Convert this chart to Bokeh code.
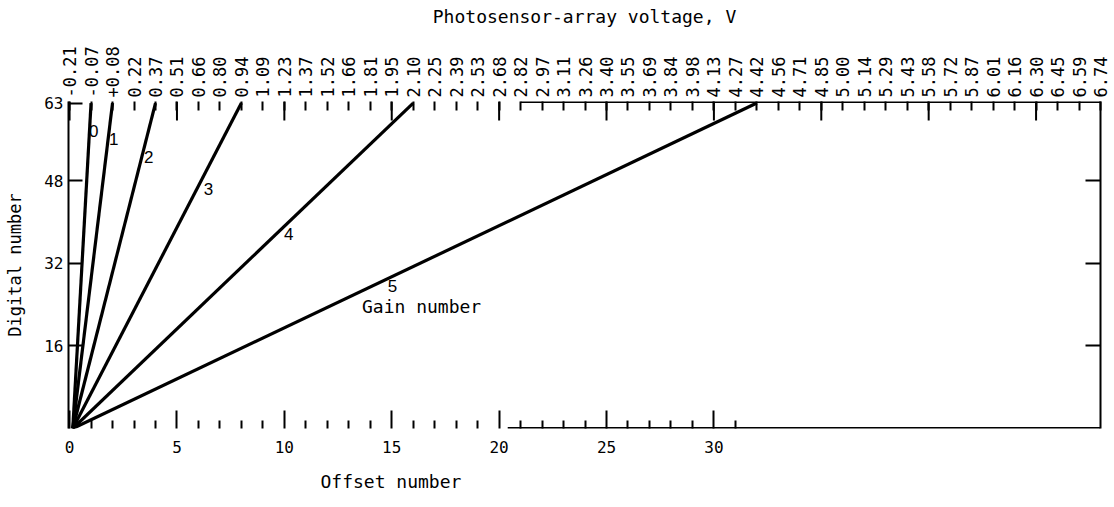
import numpy as np
from bokeh.plotting import figure
from bokeh.models import Range1d, LinearAxis, FixedTicker, Label, ColumnDataSource, Title
from bokeh.embed import file_html
from bokeh.resources import INLINE

# ---------------- data ----------------
gain_numbers = ["0", "1", "2", "3", "4", "5"]
line_start_offset = [0.15, 0.15, 0.15, 0.15, 0.15, 0.15]
line_end_offset = [1, 2, 4, 8, 16, 32]
line_start_dn = [0, 0, 0, 0, 0, 0]
line_end_dn = [63, 63, 63, 63, 63, 63]

offset_ticks = list(range(0, 49))
voltage_labels = ["-0.21", "-0.07", "+0.08", "0.22", "0.37", "0.51", "0.66", "0.80",
                  "0.94", "1.09", "1.23", "1.37", "1.52", "1.66", "1.81", "1.95",
                  "2.10", "2.25", "2.39", "2.53", "2.68", "2.82", "2.97", "3.11",
                  "3.26", "3.40", "3.55", "3.69", "3.84", "3.98", "4.13", "4.27",
                  "4.42", "4.56", "4.71", "4.85", "5.00", "5.14", "5.29", "5.43",
                  "5.58", "5.72", "5.87", "6.01", "6.16", "6.30", "6.45", "6.59", "6.74"]
bottom_major = [0, 5, 10, 15, 20, 25, 30]
bottom_minor = [i for i in range(1, 32) if i % 5 != 0]
top_long = [0, 5, 10, 15, 20, 25, 30, 35, 40, 45]
dn_ticks = [16, 32, 48, 63]
right_ticks = [16, 32, 48]

# label positions (annotation placement)
gain_label_x = [1.12, 2.05, 3.68, 6.47, 10.2, 15.04]
gain_label_y = [57.6, 56.0, 52.6, 46.4, 37.6, 27.6]

MONO = "DejaVu Sans Mono"
X0, X1 = -0.05, 48.0
Y0, Y1 = 0.0, 63.3

p = figure(width=1114, height=507, x_range=Range1d(X0, X1), y_range=Range1d(Y0, Y1),
           output_backend="svg", toolbar_location=None,
           x_axis_location=None, y_axis_location=None,
           min_border_left=68, min_border_right=14, min_border_top=101, min_border_bottom=79)
p.outline_line_color = None
p.xgrid.visible = False
p.ygrid.visible = False
p.background_fill_color = "white"
p.border_fill_color = "white"

# bottom axis (offset number)
bottom = LinearAxis(ticker=FixedTicker(ticks=bottom_major, minor_ticks=bottom_minor),
                    major_tick_in=18, major_tick_out=0, minor_tick_in=8, minor_tick_out=0,
                    major_tick_line_width=2, minor_tick_line_width=2,
                    major_tick_line_color="black", minor_tick_line_color="black",
                    axis_line_color=None, major_label_standoff=12,
                    major_label_text_font=MONO, major_label_text_font_size="16px",
                    major_label_text_color="black")
p.add_layout(bottom, "below")

# axis title below, positioned under the offset scale
p.add_layout(Title(text="Offset number", align="left", offset=252, standoff=27,
                   text_font=MONO, text_font_size="18px", text_font_style="normal",
                   text_color="black"), "below")

# top axis (voltage)
top = LinearAxis(ticker=FixedTicker(ticks=offset_ticks, minor_ticks=[]),
                 major_label_overrides={t: lab for t, lab in zip(offset_ticks, voltage_labels)},
                 major_label_orientation=np.pi / 2,
                 major_tick_in=9, major_tick_out=0, major_tick_line_width=2,
                 major_tick_line_color="black",
                 axis_line_color=None, major_label_standoff=4,
                 major_label_text_font=MONO, major_label_text_font_size="17px",
                 major_label_text_color="black",
                 axis_label="Photosensor-array voltage, V", axis_label_standoff=16,
                 axis_label_text_font=MONO, axis_label_text_font_size="18px",
                 axis_label_text_font_style="normal", axis_label_text_color="black")
p.add_layout(top, "above")

# left axis (digital number)
left = LinearAxis(ticker=FixedTicker(ticks=dn_ticks, minor_ticks=[]),
                  major_tick_in=14, major_tick_out=0, major_tick_line_width=2,
                  major_tick_line_color="black",
                  axis_line_width=2, axis_line_color="black",
                  major_label_standoff=5,
                  major_label_text_font=MONO, major_label_text_font_size="16px",
                  major_label_text_color="black",
                  axis_label="Digital number", axis_label_standoff=16,
                  axis_label_text_font=MONO, axis_label_text_font_size="17px",
                  axis_label_text_font_style="normal", axis_label_text_color="black")
p.add_layout(left, "left")

# right axis (ticks only)
right = LinearAxis(ticker=FixedTicker(ticks=right_ticks, minor_ticks=[]),
                   major_label_overrides={t: "" for t in right_ticks},
                   major_tick_in=15, major_tick_out=0, major_tick_line_width=2,
                   major_tick_line_color="black",
                   axis_line_width=2, axis_line_color="black",
                   major_label_standoff=0, major_label_text_font_size="1px")
p.add_layout(right, "right")

# long ticks along the top
long_len = 19 / 5.17
p.segment(x0=top_long, y0=[Y1] * len(top_long), x1=top_long,
          y1=[Y1 - long_len] * len(top_long), line_color="black", line_width=2)

# partial frame lines (as in the scanned original)
p.segment(x0=[21.0], y0=[Y1 - 0.12], x1=[X1], y1=[Y1 - 0.12], line_color="black", line_width=2)
p.segment(x0=[20.4], y0=[Y0 + 0.12], x1=[X1], y1=[Y0 + 0.12], line_color="black", line_width=2)

# gain lines
src = ColumnDataSource(dict(x0=line_start_offset, y0=line_start_dn,
                            x1=line_end_offset, y1=line_end_dn))
p.segment(x0="x0", y0="y0", x1="x1", y1="y1", source=src, line_color="black", line_width=3.2)

for g, x, y in zip(gain_numbers, gain_label_x, gain_label_y):
    p.add_layout(Label(x=x, y=y, text=g, text_align="center", text_baseline="middle",
                       text_font="Liberation Sans", text_font_size="17px", text_color="black"))

p.add_layout(Label(x=16.39, y=23.6, text="Gain number", text_align="center",
                   text_baseline="middle", text_font=MONO, text_font_size="18px",
                   text_color="black"))

open("out.html", "w").write(file_html(p, INLINE))
